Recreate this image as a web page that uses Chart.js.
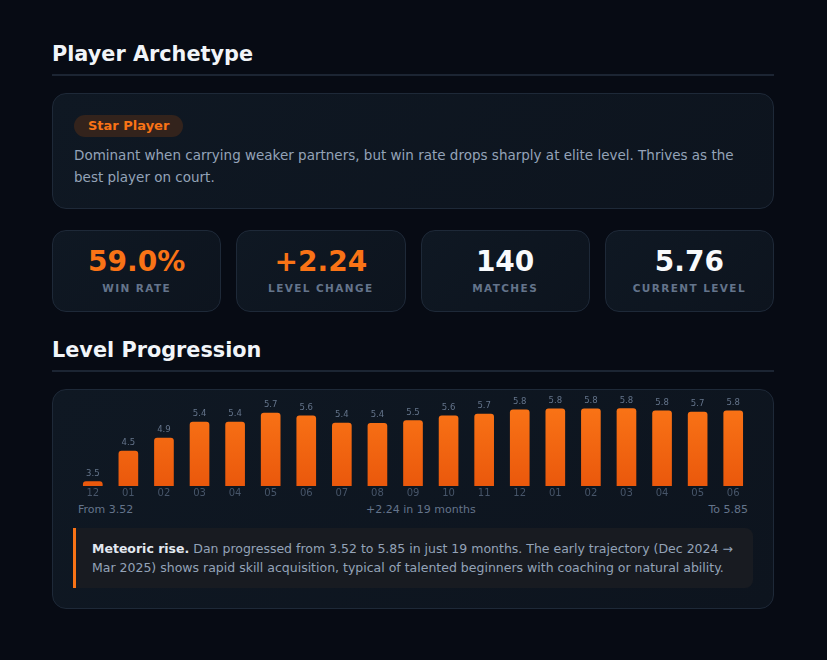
<!DOCTYPE html>
<html lang="en">
<head>
<meta charset="UTF-8">
<title>Player Archetype</title>
<script src="https://cdn.jsdelivr.net/npm/chart.js"></script>
<style>
    body {
        margin: 0;
        background: #070b14;
        font-family: 'DejaVu Sans', sans-serif;
        color: #e2e8f0;
    }
    .wrap {
        width: 722px;
        margin-left: 52px;
        padding-top: 42px;
    }
    h2 {
        margin: 0 0 17px;
        font-size: 20.8px;
        line-height: 24px;
        font-weight: 700;
        color: #f1f5f9;
        padding-bottom: 8px;
        border-bottom: 2px solid #1c2533;
    }
    .card {
        background: linear-gradient(135deg, #0f1823 0%, #0d141e 100%);
        border: 1px solid #1e2938;
        border-radius: 14px;
    }
    .archetype { padding: 21px 21px 20px; }
    .badge {
        display: inline-block;
        background: #33231c;
        color: #f97316;
        font-weight: 700;
        font-size: 13px;
        line-height: 16px;
        padding: 3px 14px;
        border-radius: 11px;
    }
    .desc {
        margin-top: 7px;
        font-size: 13.5px;
        line-height: 22px;
        color: #94a3b8;
    }
    .stats {
        display: grid;
        grid-template-columns: repeat(4, 1fr);
        gap: 15px;
        margin-top: 21px;
    }
    .stat { text-align: center; padding: 14px 0 16px; }
    .stat .v { font-size: 28px; line-height: 34px; font-weight: 700; color: #f8fafc; }
    .stat .v.hot { color: #f97316; }
    .stat .l {
        margin-top: 2px;
        font-size: 10.5px;
        line-height: 14px;
        font-weight: 700;
        letter-spacing: 1.4px;
        color: #64748b;
    }
    .sec2 { margin-top: 26px; }
    .chartcard { padding: 0 20px 20px; }
    .chartbox { position: relative; height: 110px; }
    .foot {
        display: flex;
        justify-content: space-between;
        margin-top: 3px;
        padding: 0 5px;
        font-size: 11px;
        line-height: 14px;
        color: #64748b;
    }
    .insight {
        margin-top: 11px;
        background: #181b21;
        border-left: 3px solid #f97316;
        border-radius: 0 8px 8px 0;
        padding: 11px 16px 11px;
        font-size: 12.5px;
        line-height: 19px;
        color: #94a3b8;
    }
    .insight b { color: #e2e8f0; }
</style>
</head>
<body>
<div class="wrap">
    <h2>Player Archetype</h2>
    <div class="card archetype">
        <span class="badge">Star Player</span>
        <div class="desc">Dominant when carrying weaker partners, but win rate drops sharply at elite level. Thrives as the best player on court.</div>
    </div>

    <div class="stats">
        <div class="card stat"><div class="v hot">59.0%</div><div class="l">WIN RATE</div></div>
        <div class="card stat"><div class="v hot">+2.24</div><div class="l">LEVEL CHANGE</div></div>
        <div class="card stat"><div class="v">140</div><div class="l">MATCHES</div></div>
        <div class="card stat"><div class="v">5.76</div><div class="l">CURRENT LEVEL</div></div>
    </div>

    <h2 class="sec2">Level Progression</h2>
    <div class="card chartcard">
        <div class="chartbox"><canvas id="levelChart"></canvas></div>
        <div class="foot">
            <span>From 3.52</span>
            <span>+2.24 in 19 months</span>
            <span>To 5.85</span>
        </div>
        <div class="insight"><b>Meteoric rise.</b> Dan progressed from 3.52 to 5.85 in just 19 months. The early trajectory (Dec 2024 → Mar 2025) shows rapid skill acquisition, typical of talented beginners with coaching or natural ability.</div>
    </div>
</div>

<script>
// monthly average level, Dec 2024 -> Jun 2026
const months = ['12', '01', '02', '03', '04', '05', '06', '07', '08', '09',
                '10', '11', '12', '01', '02', '03', '04', '05', '06'];
const levels = [3.52, 4.49, 4.90, 5.41, 5.41, 5.70, 5.61, 5.38, 5.37, 5.46,
                5.61, 5.67, 5.80, 5.83, 5.83, 5.84, 5.77, 5.73, 5.77];

// draws the value above each bar
const valueLabels = {
    id: 'valueLabels',
    afterDatasetsDraw(chart) {
        const ctx = chart.ctx;
        const meta = chart.getDatasetMeta(0);
        ctx.save();
        ctx.font = '8.5px "DejaVu Sans"';
        ctx.fillStyle = '#64748b';
        ctx.textAlign = 'center';
        ctx.textBaseline = 'bottom';
        meta.data.forEach((bar, i) => {
            ctx.fillText(levels[i].toFixed(1), bar.x, bar.y - 4);
        });
        ctx.restore();
    }
};

const ctx = document.getElementById('levelChart').getContext('2d');
new Chart(ctx, {
    type: 'bar',
    data: {
        labels: months,
        datasets: [{
            data: levels,
            backgroundColor: function (c) {
                const area = c.chart.chartArea;
                if (!area) return '#f97316';
                const g = c.chart.ctx.createLinearGradient(0, area.top, 0, area.bottom);
                g.addColorStop(0, '#f97316');
                g.addColorStop(1, '#ea580c');
                return g;
            },
            borderRadius: { topLeft: 3, topRight: 3 },
            borderSkipped: 'bottom',
            barThickness: 19
        }]
    },
    options: {
        responsive: true,
        maintainAspectRatio: false,
        animation: false,
        layout: { padding: { top: 18, left: 2, right: 2 } },
        plugins: {
            legend: { display: false },
            tooltip: { enabled: false }
        },
        scales: {
            x: {
                grid: { display: false, drawTicks: false },
                border: { display: false },
                ticks: {
                    padding: 1,
                    color: '#475569',
                    font: { size: 10, family: 'DejaVu Sans' }
                }
            },
            y: {
                display: false,
                min: 3.38,
                max: 5.86
            }
        }
    },
    plugins: [valueLabels]
});
</script>
</body>
</html>
